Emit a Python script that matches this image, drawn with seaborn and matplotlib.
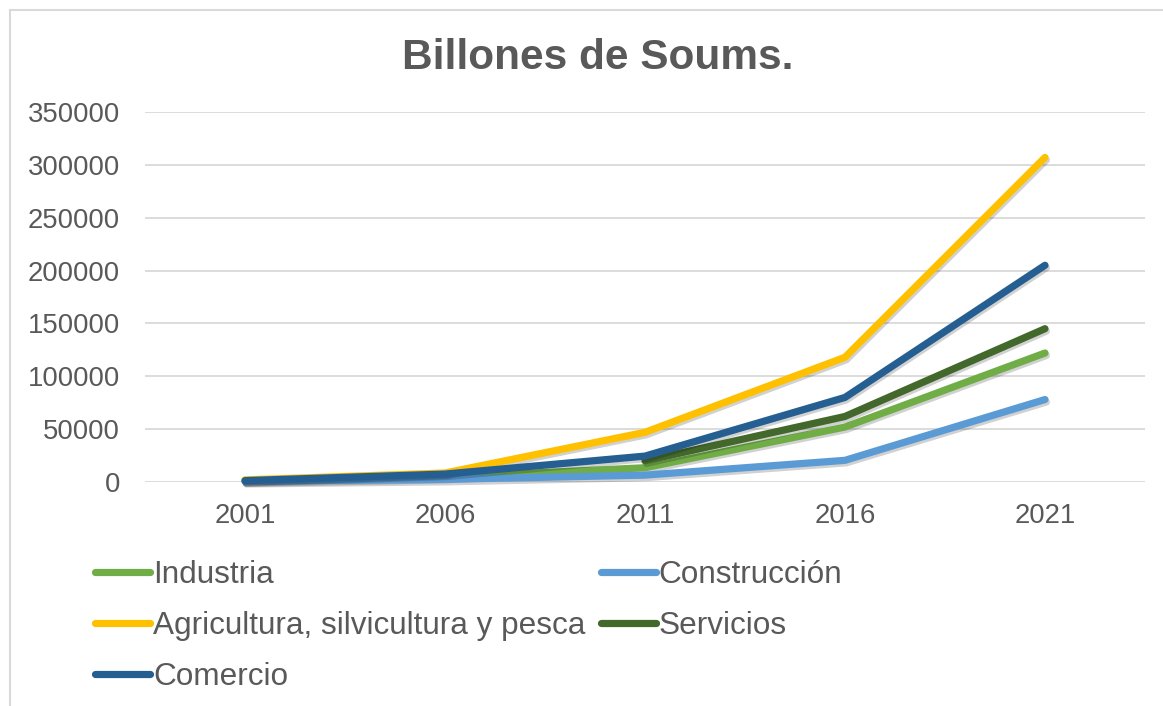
import numpy as np
import pandas as pd
import seaborn as sns
import matplotlib.pyplot as plt
import matplotlib.patheffects as pe
from matplotlib.lines import Line2D
from matplotlib.patches import Rectangle

years = [2001, 2006, 2011, 2016, 2021]
industria = [1000, 4500, 13500, 52000, 122000]
construccion = [500, 2500, 6500, 20500, 78000]
agricultura = [2000, 8500, 47000, 118000, 307000]
servicios = [np.nan, np.nan, 20000, 62000, 145000]
comercio = [1300, 7500, 24500, 80000, 205000]

series = ['Industria', 'Construcción', 'Agricultura, silvicultura y pesca',
          'Servicios', 'Comercio']
colors = ['#70AD47', '#5B9BD5', '#FFC000', '#43682B', '#255E91']
yticks = [0, 50000, 100000, 150000, 200000, 250000, 300000, 350000]

df = pd.DataFrame({'year': years, series[0]: industria, series[1]: construccion,
                   series[2]: agricultura, series[3]: servicios, series[4]: comercio})
long_df = df.melt(id_vars='year', var_name='sector', value_name='value').dropna()

sns.set_style('white')
plt.rcParams['font.family'] = ['Liberation Sans', 'DejaVu Sans']
grey = '#595959'

fig = plt.figure(figsize=(11.63, 7.06), dpi=100)
ax = fig.add_axes([145 / 1163, 1 - 482 / 706, 1000 / 1163, 370 / 706])

sns.lineplot(data=long_df, x='year', y='value', hue='sector', hue_order=series,
             palette=dict(zip(series, colors)), linewidth=5.2, legend=False, ax=ax)

for line in ax.lines:
    line.set_solid_capstyle('round')
    line.set_clip_on(False)
    line.set_path_effects([pe.SimpleLineShadow(offset=(1, -1.8), shadow_color='black', alpha=0.18),
                           pe.Normal()])

ax.set_xlim(1998.5, 2023.5)
ax.set_ylim(0, 350000)
ax.set_xticks(years)
ax.set_xticklabels([str(y) for y in years])
ax.set_yticks(yticks)
ax.set_yticklabels([str(v) for v in yticks])
ax.grid(axis='y', color='#D9D9D9', linewidth=1.3)
ax.set_axisbelow(True)
for s in ax.spines.values():
    s.set_visible(False)
ax.tick_params(axis='y', length=0, pad=18, labelsize=19.8, labelcolor=grey)
ax.tick_params(axis='x', length=0, pad=15, labelsize=19.8, labelcolor=grey)
ax.set_xlabel('')
ax.set_ylabel('')

fig.text(598 / 1163, 1 - 69 / 706, 'Billones de Soums.', ha='center', va='baseline',
         fontsize=30.5, fontweight='bold', color=grey)

# chart frame (top and left edges visible)
fig.patches.append(Rectangle((10 / 1163, -0.1), 1.2, 1 - 10 / 706 + 0.1, transform=fig.transFigure,
                             fill=False, edgecolor='#D9D9D9', linewidth=1.5))

handles = [Line2D([0], [0], color=c, linewidth=5.2, solid_capstyle='round') for c in colors]
order = [0, 2, 4, 1, 3]
fig.legend([handles[i] for i in order], [series[i] for i in order], ncol=2,
           loc='upper left', bbox_to_anchor=(95 / 1163, 1 - 560 / 706), frameon=False,
           fontsize=22.7, labelcolor=grey, handlelength=1.75, handletextpad=0.1,
           columnspacing=0.47, labelspacing=0.67, borderpad=0, borderaxespad=0)

fig.savefig('out.png', dpi=100)
